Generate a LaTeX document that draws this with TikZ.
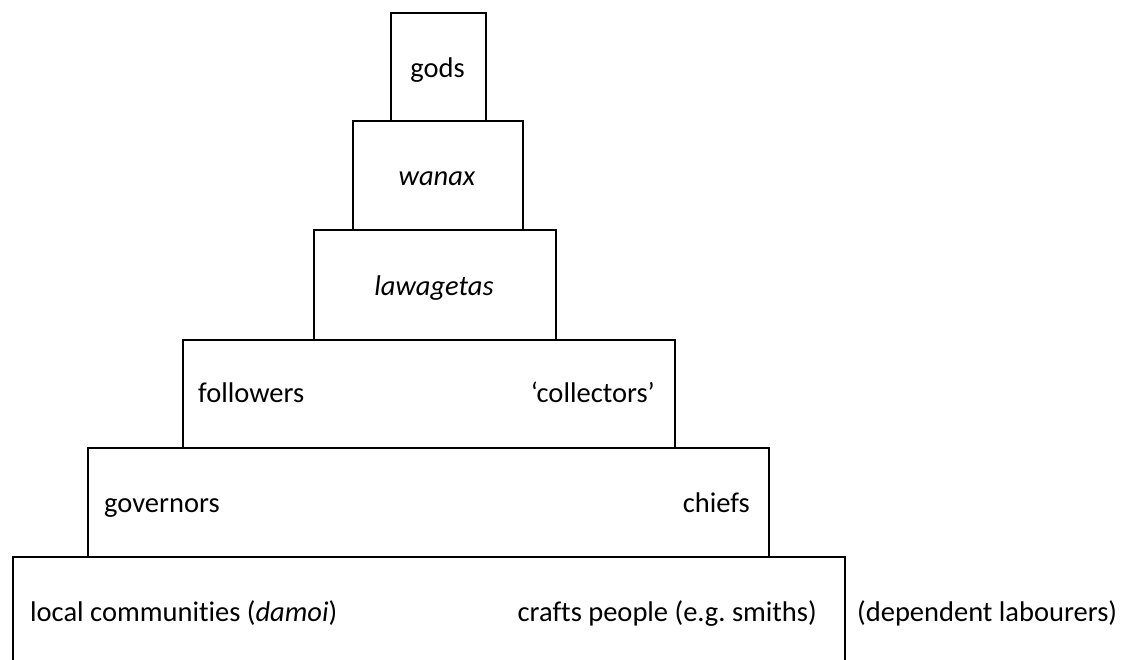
\documentclass[tikz,border=0pt]{standalone}
\usepackage{fontspec}
\setmainfont[Ligatures=NoCommon]{Carlito}
\begin{document}
\begin{tikzpicture}[x=1pt,y=-1pt,
  tier/.style={draw, line width=1.9pt, inner sep=0pt, anchor=north west},
  lbl/.style={inner sep=0pt, font=\fontsize{28.5}{32}\selectfont}]
\useasboundingbox (0,0) rectangle (1133,659);
\clip (0,0) rectangle (1133,659);
% tiers (drawn as boxes)
\node[tier, minimum width=95pt, minimum height=108pt] (gods) at (390,12) {};
\node[tier, minimum width=170pt, minimum height=109pt] (wanax) at (352,120) {};
\node[tier, minimum width=242pt, minimum height=110pt] (lawa) at (313,229) {};
\node[tier, minimum width=492pt, minimum height=108pt] (foll) at (182,339) {};
\node[tier, minimum width=681pt, minimum height=109pt] (gov) at (87,447) {};
\node[tier, minimum width=832pt, minimum height=120pt] (base) at (12,556) {};
% labels
\node[lbl, anchor=base] (tgods) at (437.5,77) {gods};
\node[lbl, anchor=base] (twanax) at (437,185) {\itshape wanax};
\node[lbl, anchor=base] (tlawa) at (434,295) {\itshape lawagetas};
\node[lbl, anchor=base west] (tfoll) at (198,402) {followers};
\node[lbl, anchor=base east] (tcoll) at (655,402) {‘collectors’};
\node[lbl, anchor=base west] (tgov) at (104,512) {governors};
\node[lbl, anchor=base east] (tchief) at (750,512) {chiefs};
\node[lbl, anchor=base west] (tlocal) at (30,621) {local communities (\textit{damoi})};
\node[lbl, anchor=base east] (tcraft) at (817,621) {crafts people (e.g.\ smiths)};
\node[lbl, anchor=base west] (tdep) at (857,621) {(dependent labourers)};
\end{tikzpicture}
\end{document}
